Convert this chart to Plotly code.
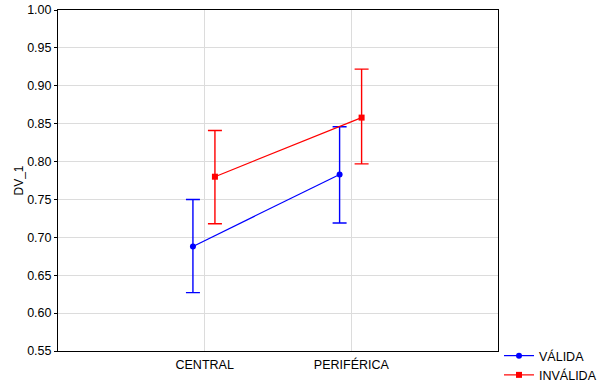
import plotly.graph_objects as go

# Category positions on a numeric axis (0..3), categories at 1 and 2
categories = ["CENTRAL", "PERIFÉRICA"]
cat_pos = [1, 2]

# Group means and confidence limits
valida_mean = [0.688, 0.783]
valida_upper = [0.750, 0.846]
valida_lower = [0.627, 0.719]

invalida_mean = [0.780, 0.858]
invalida_upper = [0.841, 0.922]
invalida_lower = [0.718, 0.797]

y_ticks = [0.55, 0.60, 0.65, 0.70, 0.75, 0.80, 0.85, 0.90, 0.95, 1.00]

# Horizontal offsets so the two groups don't overlap
offset_valida = -0.08
offset_invalida = 0.07

fig = go.Figure()


def add_group(name, mean, upper, lower, offset, color, symbol):
    xs = [p + offset for p in cat_pos]
    fig.add_trace(go.Scatter(
        x=xs, y=mean, name=name, mode="lines+markers",
        line=dict(color=color, width=1.2),
        marker=dict(color=color, size=6, symbol=symbol),
        error_y=dict(
            type="data", symmetric=False,
            array=[u - m for u, m in zip(upper, mean)],
            arrayminus=[m - l for m, l in zip(mean, lower)],
            color=color, thickness=1.4, width=7,
        ),
    ))


add_group("VÁLIDA", valida_mean, valida_upper, valida_lower,
          offset_valida, "#0000ff", "circle")
add_group("INVÁLIDA", invalida_mean, invalida_upper, invalida_lower,
          offset_invalida, "#ff0000", "square")

fig.update_layout(
    width=603, height=385,
    margin=dict(l=58, r=105, t=10, b=34, autoexpand=False),
    paper_bgcolor="white", plot_bgcolor="white",
    font=dict(family="Liberation Sans, Arial, sans-serif", size=12.5, color="black"),
    showlegend=True,
    legend=dict(
        xref="container", yref="container",
        x=499 / 603, y=(385 - 341) / 385, xanchor="left", yanchor="top",
        bgcolor="rgba(0,0,0,0)", borderwidth=0,
        font=dict(size=12.5), tracegroupgap=0, itemwidth=30,
    ),
)

fig.update_xaxes(
    range=[0, 3], tickmode="array", tickvals=cat_pos, ticktext=categories,
    showgrid=True, gridcolor="#dcdcdc", gridwidth=1,
    showline=True, linecolor="black", linewidth=1, mirror=True,
    ticks="", zeroline=False, ticklabelstandoff=2,
)
fig.update_yaxes(
    range=[0.55, 1.00], tickmode="array", tickvals=y_ticks,
    tickformat=".2f",
    showgrid=True, gridcolor="#dcdcdc", gridwidth=1,
    showline=True, linecolor="black", linewidth=1, mirror=True,
    ticks="outside", ticklen=3, tickcolor="black",
    zeroline=False,
    title=dict(text="DV_1", standoff=0, font=dict(size=12)),
)

fig.write_html("out.html")
